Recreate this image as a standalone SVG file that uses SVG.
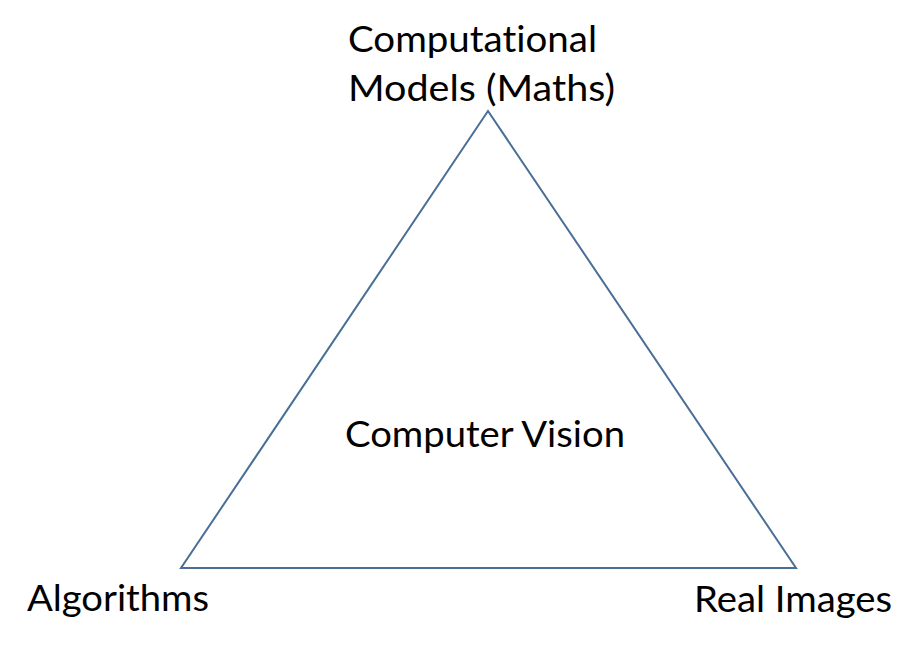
<svg xmlns="http://www.w3.org/2000/svg" width="919" height="652" viewBox="0 0 919 652">
<style>
.lbl{font-family:Lato,"Open Sans","Liberation Sans",sans-serif;font-size:37px;fill:#000;font-variant-ligatures:none;font-feature-settings:"liga" 0,"dlig" 0}
.edge{fill:none;stroke:#4a6f96;stroke-width:2;stroke-linejoin:miter}
</style>
<rect width="919" height="652" fill="#fff"/>
<g id="connectors">
<polygon class="edge" points="488,111 181,568 796,568"/>
</g>
<g id="node-models">
<text class="lbl" x="348" y="52" textLength="249" lengthAdjust="spacingAndGlyphs">Computational</text>
<text class="lbl" x="348" y="101" textLength="267" lengthAdjust="spacingAndGlyphs">Models (Maths)</text>
</g>
<g id="node-cv">
<text class="lbl" x="345" y="447" textLength="280" lengthAdjust="spacingAndGlyphs">Computer Vision</text>
</g>
<g id="node-algorithms">
<text class="lbl" x="27" y="611" textLength="182" lengthAdjust="spacingAndGlyphs">Algorithms</text>
</g>
<g id="node-real">
<text class="lbl" x="694" y="612" textLength="198" lengthAdjust="spacingAndGlyphs">Real Images</text>
</g>
</svg>
